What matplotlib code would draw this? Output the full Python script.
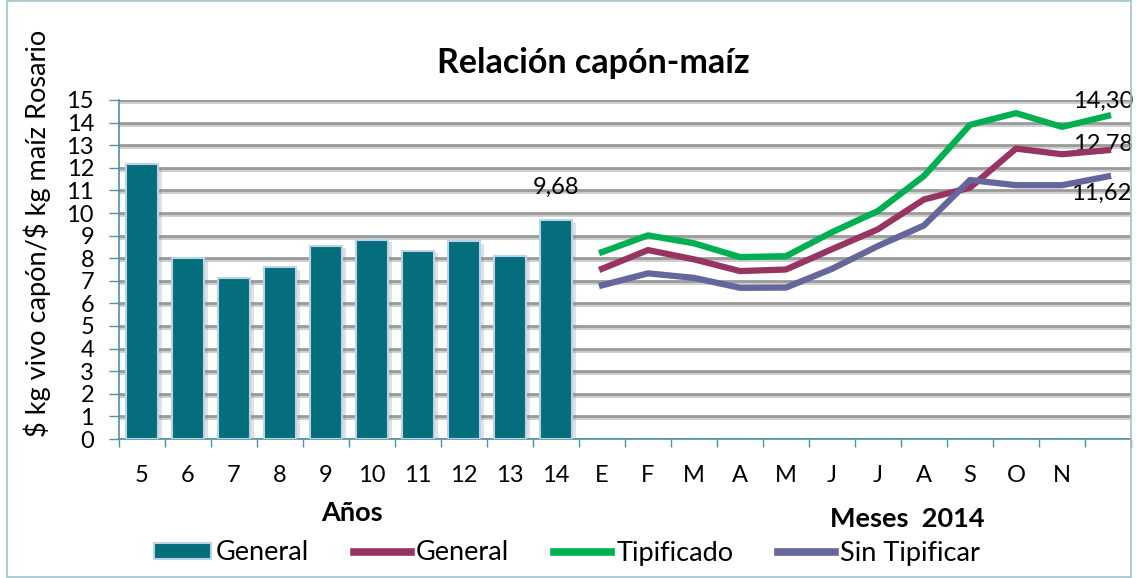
import matplotlib
matplotlib.use("Agg")
import matplotlib.pyplot as plt
import matplotlib.patheffects as pe
from matplotlib.patches import Rectangle, Patch
from matplotlib.lines import Line2D
import numpy as np

plt.rcParams['font.family'] = ['Lato', 'DejaVu Sans']

# data
years = ['5', '6', '7', '8', '9', '10', '11', '12', '13', '14']
general_years = [12.15, 8.02, 7.12, 7.62, 8.56, 8.82, 8.34, 8.77, 8.10, 9.68]

months = ['E', 'F', 'M', 'A', 'M', 'J', 'J', 'A', 'S', 'O', 'N', '']
general_months = [7.53, 8.36, 7.95, 7.43, 7.50, 8.40, 9.28, 10.60, 11.12, 12.85, 12.60, 12.78]
tipificado = [8.27, 9.01, 8.66, 8.05, 8.09, 9.15, 10.09, 11.64, 13.90, 14.42, 13.81, 14.30]
sin_tipificar = [6.80, 7.33, 7.13, 6.69, 6.70, 7.53, 8.54, 9.45, 11.46, 11.23, 11.23, 11.62]

teal = '#046E7D'
magenta = '#973462'
green = '#00B050'
slate = '#65669B'
axis_col = '#4F93A3'

labels = years + months
x_years = np.arange(len(years))
x_months = np.arange(len(months)) + len(years)

fig = plt.figure(figsize=(11.36, 5.78), dpi=100)
ax = fig.add_axes([119 / 1136, 1 - 439 / 578, (1131 - 119) / 1136, (439 - 100) / 578])

# frame around the whole chart
fig.patches.append(Rectangle((0.006, 0.002), 0.99, 0.996, transform=fig.transFigure,
                             fill=False, edgecolor='#9CC3C9', linewidth=1.2))

ax.set_xlim(-0.5, len(labels) - 0.5)
ax.set_ylim(0, 15)
ax.set_yticks(range(0, 16))
ax.yaxis.grid(True, color='#9A9A9A', linewidth=2.0,
              path_effects=[pe.SimpleLineShadow(offset=(1, -1.5), alpha=0.2), pe.Normal()])
ax.set_axisbelow(True)

bars = ax.bar(x_years, general_years, width=0.7, color=teal, edgecolor='#BBD3E8', linewidth=1.5,
              zorder=3)
for b in bars:
    b.set_path_effects([pe.SimplePatchShadow(offset=(2.5, -2), shadow_rgbFace='#888888', alpha=0.25),
                        pe.Normal()])

ax.plot(x_months, tipificado, color=green, linewidth=4.5, zorder=4)
ax.plot(x_months, general_months, color=magenta, linewidth=4.5, zorder=4)
ax.plot(x_months, sin_tipificar, color=slate, linewidth=4.5, zorder=4)

ax.text(x_years[-1], general_years[-1] + 1.0, '9,68', ha='center', va='bottom', fontsize=17)
ax.text(x_months[-1] - 0.1, tipificado[-1] + 0.62, '14,30', ha='center', va='center', fontsize=17)
ax.text(x_months[-1] - 0.1, general_months[-1] + 0.25, '12,78', ha='center', va='center', fontsize=17)
ax.text(x_months[-1] - 0.15, sin_tipificar[-1] - 0.75, '11,62', ha='center', va='center', fontsize=17)

# ticks
ax.set_xticks(np.arange(len(labels)))
ax.set_xticklabels(labels, fontsize=17)
ax.set_xticks(np.arange(len(labels) + 1) - 0.5, minor=True)
ax.tick_params(axis='x', which='major', length=0, pad=19)
ax.tick_params(axis='x', which='minor', length=6, width=1, color=axis_col, direction='out')
ax.tick_params(axis='y', labelsize=17, length=7, width=1, color=axis_col, pad=11)

for s in ['top', 'right']:
    ax.spines[s].set_visible(False)
ax.spines['left'].set_color(axis_col)
ax.spines['bottom'].set_color(axis_col)
ax.spines['left'].set_linewidth(1.2)
ax.spines['bottom'].set_linewidth(1.2)

ax.set_ylabel(r'\$ kg vivo capón/\$ kg maíz Rosario', fontsize=19.5, va='center')
ax.yaxis.set_label_coords((37 - 119) / (1131 - 119), (439 - 233) / (439 - 100))

fig.text(593 / 1136, 1 - 63 / 578, 'Relación capón-maíz', ha='center', va='center',
         fontsize=24.5, fontweight='bold')
fig.text(352 / 1136, 1 - 513 / 578, 'Años', ha='center', va='center', fontsize=19.5, fontweight='bold')
fig.text(907 / 1136, 1 - 519 / 578, 'Meses  2014', ha='center', va='center', fontsize=19.5,
         fontweight='bold')

handles = [Patch(facecolor=teal, edgecolor='#BBD3E8', linewidth=1.5),
           Line2D([], [], color=magenta, linewidth=5.5),
           Line2D([], [], color=green, linewidth=5.5),
           Line2D([], [], color=slate, linewidth=5.5)]
fig.legend(handles, ['General', 'General', 'Tipificado', 'Sin Tipificar'], ncol=4,
           loc='center', bbox_to_anchor=(567 / 1136, 1 - 553 / 578), frameon=False,
           fontsize=19.5, handlelength=2.1, handleheight=0.55, handletextpad=0.2, columnspacing=1.65,
           borderpad=0.1)

fig.savefig('out.png', dpi=100)
